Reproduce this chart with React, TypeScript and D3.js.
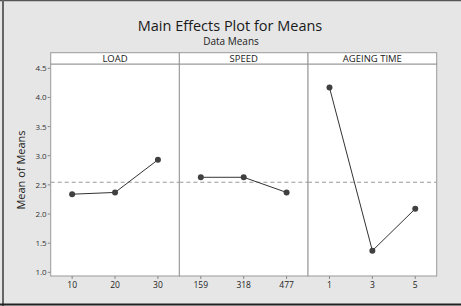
import React from "react";
import * as d3 from "d3";

const factors = ["LOAD", "SPEED", "AGEING TIME"];
const levels = [
  ["10", "20", "30"],
  ["159", "318", "477"],
  ["1", "3", "5"],
];
const means = [
  [2.34, 2.37, 2.93],
  [2.63, 2.63, 2.37],
  [4.17, 1.37, 2.09],
];
const yTicks = [1.0, 1.5, 2.0, 2.5, 3.0, 3.5, 4.0, 4.5];
const grandMean = 2.545;

const W = 461;
const H = 306;
const left = 50.7;
const right = 436.7;
const top = 52.7;
const stripBottom = 64;
const bottom = 276;

export default function App() {
  const y = d3.scaleLinear().domain([1.0, 4.5]).range([272.3, 68.3]);
  const panelW = (right - left) / factors.length;
  const font = "'Open Sans', 'Noto Sans', sans-serif";
  const line = d3
    .line<[number, number]>()
    .x((d) => d[0])
    .y((d) => d[1]);

  return (
    <svg
      width={W}
      height={H}
      style={{ position: "absolute", left: 0, top: 0 }}
      fontFamily={font}
    >
      <rect x={0} y={0} width={W} height={H} fill="#e6e6e6" />
      <line x1={0} x2={W} y1={0.5} y2={0.5} stroke="#555" strokeWidth={1.5} />
      <line x1={3} x2={3} y1={0} y2={H} stroke="#666" strokeWidth={2} />
      <line x1={0} x2={W} y1={304.5} y2={304.5} stroke="#222" strokeWidth={2} />
      <text x={230} y={31} textAnchor="middle" fontSize={14.5} fill="#1a1a1a">
        Main Effects Plot for Means
      </text>
      <text x={231} y={45} textAnchor="middle" fontSize={10} fill="#1a1a1a">
        Data Means
      </text>
      <text
        transform={`translate(25,${(stripBottom + bottom) / 2}) rotate(-90)`}
        textAnchor="middle"
        fontSize={11}
        fill="#1a1a1a"
      >
        Mean of Means
      </text>
      {yTicks.map((t) => (
        <g key={t}>
          <line x1={left - 3} x2={left} y1={y(t)} y2={y(t)} stroke="#888" />
          <text
            x={left - 4}
            y={y(t) + 3}
            textAnchor="end"
            fontSize={8}
            fill="#333"
          >
            {t.toFixed(1)}
          </text>
        </g>
      ))}
      {factors.map((f, i) => {
        const x0 = left + i * panelW;
        const x = d3
          .scalePoint<string>()
          .domain(levels[i])
          .range([x0, x0 + panelW])
          .padding(0.5);
        const pts: [number, number][] = levels[i].map((l, j) => [
          x(l) as number,
          y(means[i][j]),
        ]);
        return (
          <g key={f}>
            <rect
              x={x0}
              y={stripBottom}
              width={panelW}
              height={bottom - stripBottom}
              fill="#fff"
              stroke="#999"
              strokeWidth={1}
            />
            <rect
              x={x0}
              y={top}
              width={panelW}
              height={stripBottom - top}
              fill="#fff"
              stroke="#999"
              strokeWidth={1}
            />
            <text
              x={x0 + panelW / 2}
              y={stripBottom - 2.5}
              textAnchor="middle"
              fontSize={9.5}
              fill="#1a1a1a"
            >
              {f}
            </text>
            <line
              x1={x0}
              x2={x0 + panelW}
              y1={y(grandMean)}
              y2={y(grandMean)}
              stroke="#999"
              strokeDasharray="4,3"
            />
            <path d={line(pts) ?? ""} fill="none" stroke="#333" strokeWidth={1} />
            {pts.map((p, j) => (
              <circle key={j} cx={p[0]} cy={p[1]} r={3} fill="#404040" />
            ))}
            {levels[i].map((l) => (
              <g key={l}>
                <line
                  x1={x(l) as number}
                  x2={x(l) as number}
                  y1={bottom}
                  y2={bottom + 3}
                  stroke="#888"
                />
                <text
                  x={x(l) as number}
                  y={bottom + 12}
                  textAnchor="middle"
                  fontSize={8.5}
                  fill="#222"
                >
                  {l}
                </text>
              </g>
            ))}
          </g>
        );
      })}
    </svg>
  );
}
